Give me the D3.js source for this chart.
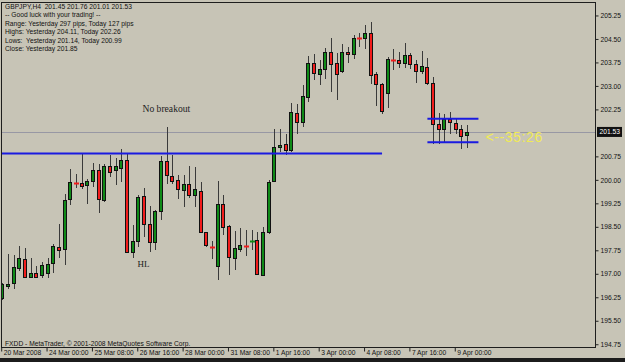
<!DOCTYPE html>
<html>
<head>
<meta charset="utf-8">
<script src="https://d3js.org/d3.v7.min.js"></script>
<style>
  body { margin:0; background:#c7c4b6; }
  svg { display:block; }
</style>
</head>
<body>
<div id="chart"></div>
<script>
// GBPJPY, H4 candles (20 Mar 16:00 -> 9 Apr 08:00, 2008)
const opens = [196.22,196.61,196.69,197.19,197.47,196.90,197.04,196.94,197.01,197.33,
  197.86,197.77,199.37,199.92,199.89,199.82,199.95,200.31,199.35,200.44,
  200.30,200.40,200.65,197.70,198.07,199.48,198.60,198.00,199.01,200.61,
  200.13,199.99,199.69,199.86,199.51,199.64,198.32,197.89,197.27,199.24,
  198.52,197.49,197.81,197.92,198.04,198.07,196.97,198.33,199.96,201.04,
  201.14,200.95,202.14,201.85,202.67,203.72,203.38,203.56,204.09,203.74,
  203.45,204.07,204.04,204.53,204.52,204.70,203.38,203.05,202.78,203.86,
  203.83,203.72,203.99,203.69,203.49,203.61,203.10,201.77,201.61,201.93,
  201.80,201.62,201.45];
const highs = [196.69,197.64,197.61,197.90,197.81,197.52,197.24,197.38,197.52,197.94,
  198.58,199.56,200.36,200.20,200.84,200.04,200.54,200.52,200.52,200.79,
  200.69,200.97,200.82,198.55,199.51,199.73,199.16,199.03,200.76,201.69,
  200.79,200.17,200.15,200.44,200.41,199.94,198.34,198.04,199.96,199.51,
  198.55,198.36,198.46,198.39,198.39,198.34,198.50,199.99,201.64,201.64,
  201.48,202.46,202.42,203.03,203.95,204.01,203.83,204.20,204.52,204.06,
  204.34,204.25,204.63,204.70,204.95,205.05,203.45,203.08,203.93,204.17,
  204.08,204.38,204.06,203.83,204.11,203.88,203.29,202.14,202.09,202.17,
  201.95,201.75,201.76];
const lows = [196.17,196.53,196.53,197.08,196.87,196.88,196.88,196.88,196.85,197.02,
  197.52,197.29,199.19,199.73,199.70,199.22,199.78,198.94,199.30,200.09,
  199.83,199.94,197.65,197.50,197.86,198.18,197.70,197.75,198.71,199.88,
  199.88,199.40,199.14,199.42,199.14,198.29,197.86,197.46,196.79,198.23,
  196.95,197.11,197.70,197.56,197.75,196.95,196.95,198.28,199.94,200.89,
  200.79,200.89,201.48,201.69,202.49,203.19,203.03,203.21,202.81,202.55,
  203.40,203.72,203.85,204.25,204.17,203.05,202.36,202.09,202.28,203.51,
  203.56,203.56,203.53,203.10,203.37,203.03,201.14,201.16,201.18,201.48,
  201.45,200.99,201.01];
const closes = [196.66,196.66,197.21,197.50,196.90,197.04,196.92,197.27,197.30,197.88,
  197.77,199.35,199.92,199.90,199.81,199.95,200.31,199.38,200.44,200.25,
  200.43,200.65,197.70,198.06,199.46,198.60,198.02,199.00,200.61,200.15,
  199.97,199.69,199.88,199.51,199.70,198.34,197.91,197.85,199.24,198.50,
  197.54,197.81,197.93,197.90,198.06,196.97,198.33,199.94,201.05,201.11,
  200.95,202.17,201.85,202.68,203.74,203.40,203.55,204.09,203.72,203.40,
  204.07,204.01,204.54,204.52,204.68,203.35,203.05,202.20,203.85,203.82,
  203.72,203.99,203.69,203.48,203.64,203.10,201.78,201.61,201.93,201.85,
  201.60,201.40,201.53];

const tickBars = [0, 8, 16, 24, 32, 40, 48, 56, 64, 72, 80];
const tickLabels = ["20 Mar 2008","24 Mar 00:00","25 Mar 08:00","26 Mar 16:00","28 Mar 00:00",
  "31 Mar 08:00","1 Apr 16:00","3 Apr 00:00","4 Apr 08:00","7 Apr 16:00","9 Apr 00:00"];
const priceTicks = [205.25,204.50,203.75,203.00,202.25,200.75,200.00,199.25,198.50,197.75,197.00,196.25,195.50,194.75];

const bid = 201.53;
const resistance = 200.84, resistanceEnd = 67;
const boxTop = 201.95, boxBottom = 201.20, boxStart = 75, boxEnd = 84;

const infoLines = ["GBPJPY,H4  201.45 201.76 201.01 201.53",
  "-- Good luck with your trading! --",
  "Range: Yesterday 297 pips, Today 127 pips",
  "Highs: Yesterday 204.11, Today 202.26",
  "Lows:  Yesterday 201.14, Today 200.99",
  "Close: Yesterday 201.85"];

const width = 625, height = 362;
const plot = {left:1.5, right:595.5, top:2.5, bottom:347.5};

const svg = d3.select("#chart").append("svg")
  .attr("width", width)
  .attr("height", height);

svg.append("rect").attr("width", width).attr("height", height).attr("fill", "#c7c4b6");
svg.append("rect").attr("x", 0).attr("y", 358).attr("width", width).attr("height", 4).attr("fill", "#1c1c1c");

const x = d3.scaleLinear().domain([0, 82]).range([2.2, 467.1]);
const y = d3.scaleLinear().domain([194.63, 205.68]).range([348, 2]);

svg.append("clipPath").attr("id", "clip")
  .append("rect")
  .attr("x", plot.left).attr("y", plot.top)
  .attr("width", plot.right - plot.left).attr("height", plot.bottom - plot.top);

const chart = svg.append("g").attr("clip-path", "url(#clip)");

// bid line
chart.append("line")
  .attr("x1", plot.left).attr("x2", plot.right)
  .attr("y1", Math.round(y(bid)) + 0.5).attr("y2", Math.round(y(bid)) + 0.5)
  .attr("stroke", "#9898a4").attr("stroke-width", 1);

// candles
const bars = opens.map(function(o, i) {
  return {i: i, o: o, h: highs[i], l: lows[i], c: closes[i]};
});

const cx = function(d) { return Math.round(x(d.i)); };

chart.selectAll(".wick")
  .data(bars)
  .enter().append("line")
  .attr("class", "wick")
  .attr("x1", function(d) { return cx(d) + 0.5; })
  .attr("x2", function(d) { return cx(d) + 0.5; })
  .attr("y1", function(d) { return Math.round(y(d.h)); })
  .attr("y2", function(d) { return Math.round(y(d.l)); })
  .attr("stroke", "#3a3a3a")
  .attr("stroke-width", 1);

chart.selectAll(".body")
  .data(bars.filter(function(d) { return Math.abs(y(d.o) - y(d.c)) >= 1.5; }))
  .enter().append("rect")
  .attr("class", "body")
  .attr("x", function(d) { return cx(d) - 1.5; })
  .attr("width", 3)
  .attr("y", function(d) { return Math.round(y(Math.max(d.o, d.c))) + 0.5; })
  .attr("height", function(d) { return Math.max(1, Math.round(Math.abs(y(d.o) - y(d.c)))); })
  .attr("fill", function(d) { return d.c >= d.o ? "#0f8a17" : "#f21d1d"; })
  .attr("stroke", "#111")
  .attr("stroke-width", 1);

chart.selectAll(".doji")
  .data(bars.filter(function(d) { return Math.abs(y(d.o) - y(d.c)) < 1.5; }))
  .enter().append("line")
  .attr("class", "doji")
  .attr("x1", function(d) { return cx(d) - 2; })
  .attr("x2", function(d) { return cx(d) + 3; })
  .attr("y1", function(d) { return Math.round(y(d.c)) + 0.5; })
  .attr("y2", function(d) { return Math.round(y(d.c)) + 0.5; })
  .attr("stroke", function(d) { return d.c > d.o ? "#0f8a17" : (d.c < d.o ? "#f21d1d" : "#222"); })
  .attr("stroke-width", 2);

// drawn lines
chart.append("line")
  .attr("x1", plot.left).attr("x2", x(resistanceEnd))
  .attr("y1", y(resistance)).attr("y2", y(resistance))
  .attr("stroke", "#1a1ae0").attr("stroke-width", 2);

[boxTop, boxBottom].forEach(function(v) {
  chart.append("line")
    .attr("x1", x(boxStart)).attr("x2", x(boxEnd))
    .attr("y1", y(v)).attr("y2", y(v))
    .attr("stroke", "#1a1ae0").attr("stroke-width", 2);
});

chart.append("text")
  .attr("x", x(boxEnd) + 7)
  .attr("y", y(bid) + 10.3)
  .attr("font-family", "Liberation Sans, Arial, sans-serif")
  .attr("font-size", 14)
  .attr("letter-spacing", 0.6)
  .attr("fill", "#f0ea55")
  .text("<--35:26");

chart.append("text")
  .attr("x", 142.5).attr("y", 111.5)
  .attr("font-family", "Liberation Serif, Times New Roman, serif")
  .attr("font-size", 9.6)
  .attr("fill", "#222")
  .text("No breakout");

chart.append("text")
  .attr("x", 137.5).attr("y", 267)
  .attr("font-family", "Liberation Serif, Times New Roman, serif")
  .attr("font-size", 9)
  .attr("fill", "#222")
  .text("HL");

// info block
svg.append("g")
  .attr("font-family", "Liberation Sans, Arial, sans-serif")
  .attr("font-size", 6.7)
  .attr("fill", "#111")
  .selectAll("text")
  .data(infoLines)
  .enter().append("text")
  .attr("x", 5)
  .attr("y", function(d, i) { return 9 + i * 8.45; })
  .attr("xml:space", "preserve")
  .style("white-space", "pre")
  .text(function(d) { return d; });

svg.append("text")
  .attr("x", 5).attr("y", 345.5)
  .attr("font-family", "Liberation Sans, Arial, sans-serif")
  .attr("font-size", 6.7)
  .attr("fill", "#111")
  .text("FXDD - MetaTrader, \u00a9 2001-2008 MetaQuotes Software Corp.");

// frame
svg.append("rect")
  .attr("x", plot.left).attr("y", plot.top)
  .attr("width", plot.right - plot.left).attr("height", plot.bottom - plot.top)
  .attr("fill", "none").attr("stroke", "#1e1e1e").attr("stroke-width", 1);

// price axis
const yAxis = svg.append("g")
  .attr("transform", "translate(" + plot.right + ",0)")
  .call(d3.axisRight(y).tickValues(priceTicks).tickSize(3).tickPadding(2).tickFormat(d3.format(".2f")));
yAxis.select(".domain").remove();
yAxis.selectAll("line").attr("stroke", "#222");
yAxis.selectAll("text")
  .attr("font-family", "Liberation Sans, Arial, sans-serif")
  .attr("font-size", 6.7)
  .attr("fill", "#111");

// bid label
const bidBox = svg.append("g").attr("transform", "translate(597," + y(bid) + ")");
bidBox.append("rect")
  .attr("x", 0).attr("y", -5).attr("width", 25).attr("height", 10)
  .attr("fill", "#111");
bidBox.append("text")
  .attr("x", 2.5).attr("y", 2.5)
  .attr("font-family", "Liberation Sans, Arial, sans-serif")
  .attr("font-size", 6.7)
  .attr("fill", "#fff")
  .text(bid.toFixed(2));

// time axis
const xAxis = svg.append("g")
  .attr("transform", "translate(-1," + plot.bottom + ")")
  .call(d3.axisBottom(x).tickValues(tickBars).tickSize(4).tickPadding(0)
    .tickFormat(function(d, i) { return tickLabels[i]; }));
xAxis.select(".domain").remove();
xAxis.selectAll("line").attr("stroke", "#222");
xAxis.selectAll("text")
  .attr("text-anchor", "start")
  .attr("x", 2)
  .attr("y", 2.5)
  .attr("dy", "0.71em")
  .attr("font-family", "Liberation Sans, Arial, sans-serif")
  .attr("font-size", 6.7)
  .attr("fill", "#111");
</script>
</body>
</html>
